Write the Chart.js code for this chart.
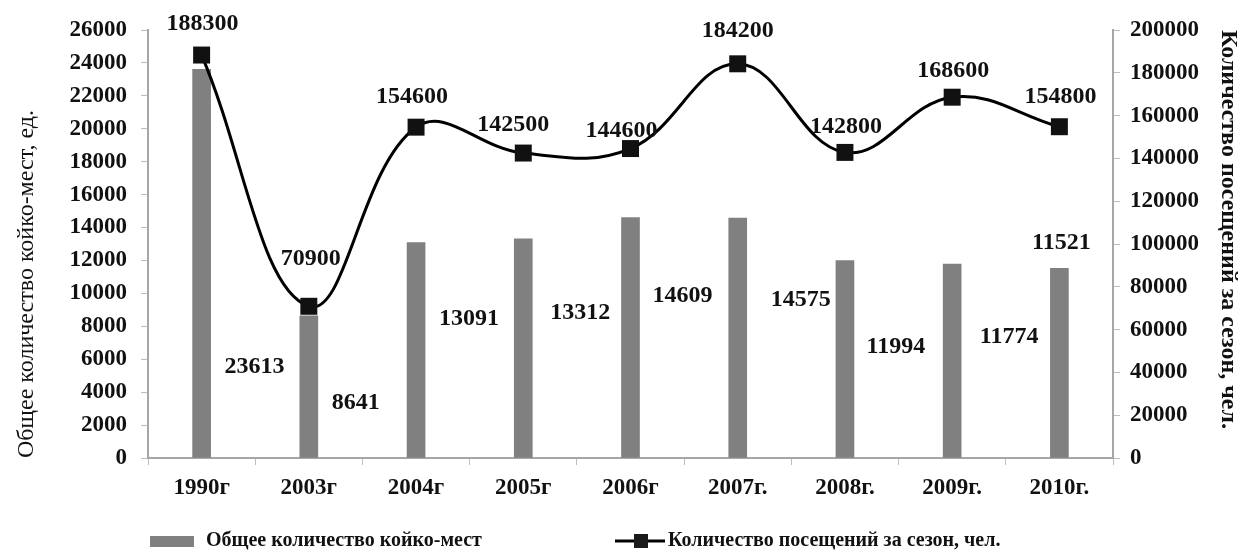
<!DOCTYPE html>
<html lang="ru">
<head>
<meta charset="utf-8">
<title>Койко-места и посещения</title>
<script src="https://cdn.jsdelivr.net/npm/chart.js@4.4.1/dist/chart.umd.min.js"></script>
<style>
  html, body { margin: 0; padding: 0; background: #fff; }
  #wrap { width: 1247px; height: 550px; }
</style>
</head>
<body>
<div id="wrap"><canvas id="grafico"></canvas></div>
<script>
// Dados
const categorias = ['1990г', '2003г', '2004г', '2005г', '2006г', '2007г.', '2008г.', '2009г.', '2010г.'];
const koikoMesta = [23613, 8641, 13091, 13312, 14609, 14575, 11994, 11774, 11521];
const poseshcheniya = [188300, 70900, 154600, 142500, 144600, 184200, 142800, 168600, 154800];

// Deslocamento dos rótulos (px) em relação à barra / ao ponto
const desvioRotuloBarra = [[53, 298], [47, 87], [53, 76], [57, 74], [52, 78], [63, 82], [51, 86], [57, 73], [2, -26]];
const desvioRotuloLinha = [[1, -31], [2, -47], [-4, -30], [-10, -28], [-9, -18], [0, -33], [1, -26], [1, -26], [1, -30]];

const FONTE = '"Liberation Serif", "Times New Roman", serif';
const COR_BARRA = '#808080';
const COR_TEXTO = '#111111';

const rotulosPlugin = {
  id: 'rotulos',
  afterDatasetsDraw(chart) {
    const ctx = chart.ctx;
    ctx.save();
    ctx.font = 'bold 24px ' + FONTE;
    ctx.fillStyle = COR_TEXTO;
    ctx.textAlign = 'center';
    ctx.textBaseline = 'middle';
    chart.getDatasetMeta(0).data.forEach((barra, i) => {
      const [dx, dy] = desvioRotuloBarra[i];
      ctx.fillText(String(koikoMesta[i]), barra.x + dx, barra.y + dy);
    });
    chart.getDatasetMeta(1).data.forEach((ponto, i) => {
      const [dx, dy] = desvioRotuloLinha[i];
      ctx.fillText(String(poseshcheniya[i]), ponto.x + dx, ponto.y + dy);
    });
    ctx.restore();
  }
};

const legendaPlugin = {
  id: 'legenda',
  afterDraw(chart) {
    const ctx = chart.ctx;
    const y = 541;
    const ds = chart.data.datasets;
    ctx.save();
    ctx.font = 'bold 20px ' + FONTE;
    ctx.textAlign = 'left';
    ctx.textBaseline = 'middle';

    // barras
    ctx.fillStyle = COR_BARRA;
    ctx.fillRect(150, y - 5, 44, 11);
    ctx.fillStyle = COR_TEXTO;
    ctx.fillText(ds[0].label, 206, y);

    // linha com marcador
    ctx.strokeStyle = '#000';
    ctx.lineWidth = 3;
    ctx.beginPath();
    ctx.moveTo(615, y);
    ctx.lineTo(665, y);
    ctx.stroke();
    ctx.fillStyle = '#1a1a1a';
    ctx.fillRect(634, y - 7, 14, 14);
    ctx.fillStyle = COR_TEXTO;
    ctx.fillText(ds[1].label, 668, y);
    ctx.restore();
  }
};

const fonteTicks = { family: FONTE, size: 23, weight: 'bold' };
const semSeparador = value => String(value);

const ctx = document.getElementById('grafico').getContext('2d');
new Chart(ctx, {
  data: {
    labels: categorias,
    datasets: [
      {
        type: 'bar',
        label: 'Общее количество койко-мест',
        data: koikoMesta,
        backgroundColor: COR_BARRA,
        borderWidth: 0,
        barThickness: 18,
        yAxisID: 'y',
        order: 2
      },
      {
        type: 'line',
        label: 'Количество посещений за сезон, чел.',
        data: poseshcheniya,
        borderColor: '#000',
        borderWidth: 3,
        tension: 0.4,
        pointStyle: 'rect',
        pointRadius: 12,
        pointBackgroundColor: '#111',
        pointBorderColor: '#111',
        pointBorderWidth: 0,
        yAxisID: 'y1',
        order: 1
      }
    ]
  },
  options: {
    responsive: true,
    maintainAspectRatio: false,
    animation: false,
    layout: {
      padding: { top: 30, bottom: 42, left: 0, right: 0 }
    },
    plugins: {
      legend: { display: false },
      tooltip: { enabled: false }
    },
    scales: {
      x: {
        grid: { offset: true, drawOnChartArea: false, tickLength: 7, color: '#bdbdbd' },
        border: { color: '#a6a6a6', width: 2 },
        ticks: { font: fonteTicks, color: COR_TEXTO, padding: 9, autoSkip: false, maxRotation: 0 },
        afterFit(scale) { scale.height = 50; }
      },
      y: {
        position: 'left',
        min: 0,
        max: 26000,
        grid: { drawOnChartArea: false, tickLength: 7, color: '#bdbdbd' },
        border: { color: '#a6a6a6', width: 2 },
        ticks: { stepSize: 2000, font: fonteTicks, color: COR_TEXTO, padding: 14, callback: semSeparador },
        title: {
          display: true,
          text: 'Общее количество койко-мест, ед.',
          align: 'start',
          font: { family: FONTE, size: 24 },
          color: COR_TEXTO,
          padding: { top: 12, bottom: 0 }
        },
        afterFit(scale) { scale.width = 148; }
      },
      y1: {
        position: 'right',
        min: 0,
        max: 200000,
        grid: { drawOnChartArea: false, tickLength: 7, color: '#bdbdbd' },
        border: { color: '#a6a6a6', width: 2 },
        ticks: { stepSize: 20000, font: fonteTicks, color: COR_TEXTO, padding: 10, callback: semSeparador },
        title: {
          display: true,
          text: 'Количество посещений за сезон, чел.',
          align: 'end',
          font: { family: FONTE, size: 24, weight: 'bold' },
          color: COR_TEXTO,
          padding: { top: 4, bottom: 0 }
        },
        afterFit(scale) { scale.width = 134; }
      }
    }
  },
  plugins: [rotulosPlugin, legendaPlugin]
});
</script>
</body>
</html>
